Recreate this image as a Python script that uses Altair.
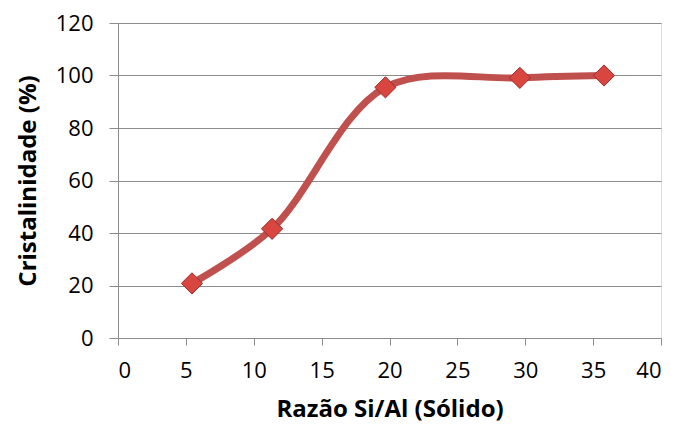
import altair as alt
import pandas as pd

razao = [5.45, 11.35, 19.7, 29.6, 35.8]
cristalinidade = [20.8, 41.6, 95.5, 99.1, 100.0]

df = pd.DataFrame({"x": razao, "y": cristalinidade})

FONT = "Open Sans"

xenc = alt.X("x:Q", scale=alt.Scale(domain=[0, 40], nice=False),
             axis=alt.Axis(title="Razão Si/Al (Sólido)", values=list(range(0, 41, 5)),
                           grid=False, labelFontSize=22, titleFontSize=24,
                           titleFontWeight="bold", labelPadding=15, titlePadding=16,
                           tickSize=7, labelColor="#000", titleColor="#000",
                           domainColor="#8c8c8c", tickColor="#8c8c8c",
                           labelFont=FONT, titleFont=FONT))
yenc = alt.Y("y:Q", scale=alt.Scale(domain=[0, 120], nice=False),
             axis=alt.Axis(title="Cristalinidade (%)", values=list(range(0, 121, 20)),
                           grid=True, gridColor="#8c8c8c", gridWidth=1.2,
                           labelFontSize=22, titleFontSize=24, titleFontWeight="bold",
                           labelPadding=16, titlePadding=15, tickSize=9,
                           labelColor="#000", titleColor="#000",
                           domainColor="#8c8c8c", tickColor="#8c8c8c",
                           labelFont=FONT, titleFont=FONT))

line = alt.Chart(df).mark_line(interpolate="catmull-rom", color="#C0504D",
                               strokeWidth=7).encode(x=xenc, y=yenc)
pts = alt.Chart(df).mark_point(shape="diamond", filled=True, size=450,
                               color="#D9453F", stroke="#9A2E2B", strokeWidth=1,
                               opacity=1).encode(x="x:Q", y="y:Q")

chart = (line + pts).properties(
    width=543, height=315,
    autosize=alt.AutoSizeParams(type="none"),
    padding={"left": 110, "top": 15, "right": 9, "bottom": 98},
).configure_view(stroke=None).configure(background="white")

chart.save("out.html", embed_options={"renderer": "svg", "actions": False})
